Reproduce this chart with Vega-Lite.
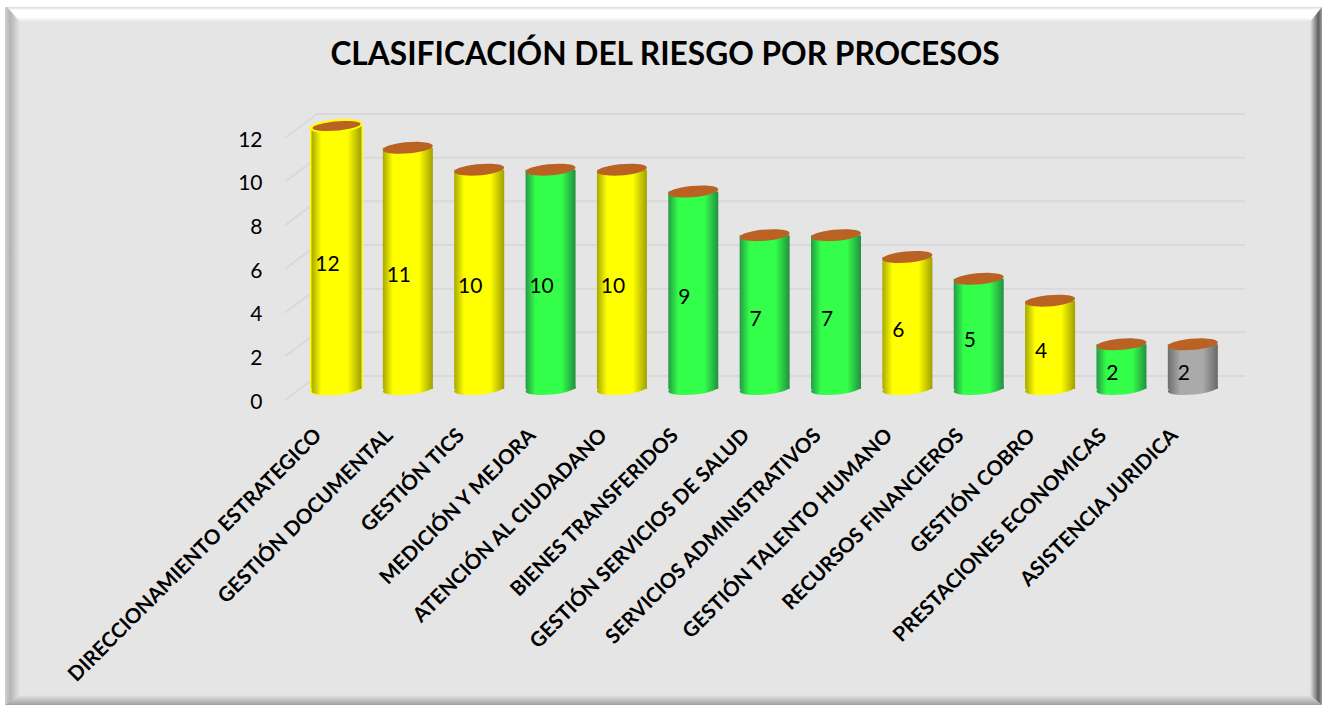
{"$schema":"https://vega.github.io/schema/vega-lite/v6.json","width":960,"height":262,"autosize":"none","padding":{"left":285,"top":138,"right":84,"bottom":305},"background":"#ffffff","config":{"view":{"stroke":null}},"title":{"text":"CLASIFICACIÓN DEL RIESGO POR PROCESOS","font":"Lato","fontSize":31.7,"fontWeight":"bold","color":"#000000","anchor":"middle","frame":"group","dx":-100,"offset":-65,"zindex":1},"datasets":{"procesos":[{"proceso":"DIRECCIONAMIENTO ESTRATEGICO","valor":12,"grupo":"amarillo"},{"proceso":"GESTIÓN DOCUMENTAL","valor":11,"grupo":"amarillo"},{"proceso":"GESTIÓN TICS","valor":10,"grupo":"amarillo"},{"proceso":"MEDICIÓN Y MEJORA","valor":10,"grupo":"verde"},{"proceso":"ATENCIÓN AL CIUDADANO","valor":10,"grupo":"amarillo"},{"proceso":"BIENES TRANSFERIDOS","valor":9,"grupo":"verde"},{"proceso":"GESTIÓN SERVICIOS DE SALUD","valor":7,"grupo":"verde"},{"proceso":"SERVICIOS ADMINISTRATIVOS","valor":7,"grupo":"verde"},{"proceso":"GESTIÓN TALENTO HUMANO","valor":6,"grupo":"amarillo"},{"proceso":"RECURSOS FINANCIEROS","valor":5,"grupo":"verde"},{"proceso":"GESTIÓN COBRO","valor":4,"grupo":"amarillo"},{"proceso":"PRESTACIONES ECONOMICAS","valor":2,"grupo":"verde"},{"proceso":"ASISTENCIA JURIDICA","valor":2,"grupo":"gris"}],"rejilla":[{"v":0,"gx":0,"gy":0},{"v":0,"gx":0.0334,"gy":1.1},{"v":0,"gx":1,"gy":1.1},{"v":2,"gx":0,"gy":2},{"v":2,"gx":0.0334,"gy":3.1},{"v":2,"gx":1,"gy":3.1},{"v":4,"gx":0,"gy":4},{"v":4,"gx":0.0334,"gy":5.1},{"v":4,"gx":1,"gy":5.1},{"v":6,"gx":0,"gy":6},{"v":6,"gx":0.0334,"gy":7.1},{"v":6,"gx":1,"gy":7.1},{"v":8,"gx":0,"gy":8},{"v":8,"gx":0.0334,"gy":9.1},{"v":8,"gx":1,"gy":9.1},{"v":10,"gx":0,"gy":10},{"v":10,"gx":0.0334,"gy":11.1},{"v":10,"gx":1,"gy":11.1},{"v":12,"gx":0,"gy":12},{"v":12,"gx":0.0334,"gy":13.1},{"v":12,"gx":1,"gy":13.1}]},"resolve":{"scale":{"x":"independent","y":"independent"},"axis":{"x":"independent","y":"independent"}},"layer":[{"layer":[{"data":{"values":[{"a":0.0038,"b":0.9947,"c":0.0099,"d":1}]},"mark":{"type":"rect","color":"#e5e5e5"},"encoding":{"x":{"field":"a","type":"quantitative","scale":{"domain":[0,1],"range":[-285,1044]},"axis":null},"x2":{"field":"b"},"y":{"field":"c","type":"quantitative","scale":{"domain":[0,1],"range":[-138,567]},"axis":null},"y2":{"field":"d"}}},{"data":{"values":[{"fx":0.0053,"fy":0.0099,"fy2":0.0099},{"fx":0.015,"fy":0.0099,"fy2":0.0312},{"fx":0.9857,"fy":0.0099,"fy2":0.0312},{"fx":0.9947,"fy":0.0099,"fy2":0.0099}]},"mark":{"type":"area","color":{"gradient":"linear","x1":0,"y1":0,"x2":0,"y2":1,"stops":[{"offset":0,"color":"#d8d8d8"},{"offset":0.2,"color":"#ffffff"},{"offset":0.7,"color":"#ffffff"},{"offset":1,"color":"#e5e5e5"}]}},"encoding":{"x":{"field":"fx","type":"quantitative","scale":{"domain":[0,1],"range":[-285,1044]},"axis":null},"y":{"field":"fy","type":"quantitative","scale":{"domain":[0,1],"range":[-138,567]},"axis":null},"y2":{"field":"fy2"}}},{"data":{"values":[{"fx":0.0038,"fy":0.9858,"fy2":1},{"fx":0.015,"fy":0.9858,"fy2":1},{"fx":0.9857,"fy":0.9858,"fy2":1},{"fx":0.9947,"fy":1,"fy2":1}]},"mark":{"type":"area","color":{"gradient":"linear","x1":0,"y1":0,"x2":0,"y2":1,"stops":[{"offset":0,"color":"#e5e5e5"},{"offset":1,"color":"#a0a0a0"}]}},"encoding":{"x":{"field":"fx","type":"quantitative","scale":{"domain":[0,1],"range":[-285,1044]},"axis":null},"y":{"field":"fy","type":"quantitative","scale":{"domain":[0,1],"range":[-138,567]},"axis":null},"y2":{"field":"fy2"}}},{"data":{"values":[{"fy":0.0099,"fx":0.0038,"fx2":0.0053},{"fy":0.0312,"fx":0.0038,"fx2":0.015},{"fy":0.9858,"fx":0.0038,"fx2":0.015},{"fy":1,"fx":0.0038,"fx2":0.0038}]},"mark":{"type":"area","orient":"horizontal","color":{"gradient":"linear","x1":0,"y1":0,"x2":1,"y2":0,"stops":[{"offset":0,"color":"#d0d0d0"},{"offset":0.35,"color":"#b4b4b4"},{"offset":1,"color":"#e5e5e5"}]}},"encoding":{"x":{"field":"fx","type":"quantitative","scale":{"domain":[0,1],"range":[-285,1044]},"axis":null},"x2":{"field":"fx2"},"y":{"field":"fy","type":"quantitative","scale":{"domain":[0,1],"range":[-138,567]},"axis":null}}},{"data":{"values":[{"fy":0.0099,"fx":0.9947,"fx2":0.9947},{"fy":0.0312,"fx":0.9857,"fx2":0.9947},{"fy":0.9858,"fx":0.9857,"fx2":0.9947},{"fy":1,"fx":0.9947,"fx2":0.9947}]},"mark":{"type":"area","orient":"horizontal","color":{"gradient":"linear","x1":0,"y1":0,"x2":1,"y2":0,"stops":[{"offset":0,"color":"#e5e5e5"},{"offset":0.7,"color":"#606060"},{"offset":1,"color":"#9a9a9a"}]}},"encoding":{"x":{"field":"fx","type":"quantitative","scale":{"domain":[0,1],"range":[-285,1044]},"axis":null},"x2":{"field":"fx2"},"y":{"field":"fy","type":"quantitative","scale":{"domain":[0,1],"range":[-138,567]},"axis":null}}}]},{"data":{"name":"rejilla"},"mark":{"type":"line","color":"#d9d9d9","strokeWidth":2,"clip":false},"encoding":{"x":{"field":"gx","type":"quantitative","scale":{"domain":[0,1],"range":[0,960]},"axis":null},"y":{"field":"gy","type":"quantitative","scale":{"domain":[0,12],"nice":false,"zero":false},"axis":null},"detail":{"field":"v"}}},{"data":{"name":"procesos"},"encoding":{"x":{"field":"proceso","type":"nominal","sort":null,"title":null,"scale":{"type":"band","domain":["DIRECCIONAMIENTO ESTRATEGICO","GESTIÓN DOCUMENTAL","GESTIÓN TICS","MEDICIÓN Y MEJORA","ATENCIÓN AL CIUDADANO","BIENES TRANSFERIDOS","GESTIÓN SERVICIOS DE SALUD","SERVICIOS ADMINISTRATIVOS","GESTIÓN TALENTO HUMANO","RECURSOS FINANCIEROS","GESTIÓN COBRO","PRESTACIONES ECONOMICAS","ASISTENCIA JURIDICA"],"range":[15.8,943.5],"paddingInner":0,"paddingOuter":0},"axis":{"labelAngle":-45,"labelAlign":"right","labelBaseline":"middle","labelFont":"Lato","labelFontSize":20.5,"labelFontWeight":"bold","labelColor":"#000000","labelLimit":600,"labelOverlap":false,"labelPadding":32,"labelOffset":-18,"ticks":false,"domain":false,"grid":false,"zindex":1}},"y":{"field":"valor","type":"quantitative","stack":null,"title":null,"scale":{"domain":[0,12],"nice":false},"axis":{"values":[0,2,4,6,8,10,12],"labelFont":"Lato","labelFontSize":21,"labelColor":"#000000","labelPadding":23,"labelOffset":2,"ticks":false,"domain":false,"grid":false,"zindex":1}},"y2":{"datum":0}},"layer":[{"transform":[{"filter":"datum.valor === 12"}],"mark":{"type":"bar","size":53,"color":"#ffff00","yOffset":-12,"y2Offset":-11}},{"transform":[{"filter":"datum.valor === 12"}],"mark":{"type":"point","filled":true,"opacity":1,"size":2800,"yOffset":-11,"shape":"M-0.996,0.087 A1,0.22,-5,1,0,0.996,-0.087 A1,0.22,-5,1,0,-0.996,0.087 Z","color":"#ffff00"},"encoding":{"y":{"datum":0,"type":"quantitative"},"y2":null}},{"transform":[{"filter":"datum.grupo === 'amarillo'"}],"mark":{"type":"bar","size":50,"yOffset":-12,"y2Offset":-11,"color":{"gradient":"linear","x1":0,"y1":0,"x2":1,"y2":0,"stops":[{"offset":0,"color":"#a8a800"},{"offset":0.2,"color":"#ffff00"},{"offset":0.72,"color":"#ffff00"},{"offset":1,"color":"#a0a000"}]}}},{"transform":[{"filter":"datum.grupo === 'verde'"}],"mark":{"type":"bar","size":50,"yOffset":-12,"y2Offset":-11,"color":{"gradient":"linear","x1":0,"y1":0,"x2":1,"y2":0,"stops":[{"offset":0,"color":"#259a45"},{"offset":0.2,"color":"#33ff4a"},{"offset":0.72,"color":"#33ff4a"},{"offset":1,"color":"#229040"}]}}},{"transform":[{"filter":"datum.grupo === 'gris'"}],"mark":{"type":"bar","size":50,"yOffset":-12,"y2Offset":-11,"color":{"gradient":"linear","x1":0,"y1":0,"x2":1,"y2":0,"stops":[{"offset":0,"color":"#6e6e6e"},{"offset":0.25,"color":"#aaaaaa"},{"offset":0.7,"color":"#aaaaaa"},{"offset":1,"color":"#686868"}]}}},{"transform":[{"filter":"datum.grupo === 'amarillo'"}],"mark":{"type":"point","filled":true,"opacity":1,"size":2500,"yOffset":-11,"shape":"M-0.996,0.087 A1,0.22,-5,1,0,0.996,-0.087 A1,0.22,-5,1,0,-0.996,0.087 Z","color":{"gradient":"linear","x1":0,"y1":0,"x2":1,"y2":0,"stops":[{"offset":0,"color":"#a8a800"},{"offset":0.2,"color":"#ffff00"},{"offset":0.72,"color":"#ffff00"},{"offset":1,"color":"#a0a000"}]}},"encoding":{"y":{"datum":0,"type":"quantitative"},"y2":null}},{"transform":[{"filter":"datum.grupo === 'verde'"}],"mark":{"type":"point","filled":true,"opacity":1,"size":2500,"yOffset":-11,"shape":"M-0.996,0.087 A1,0.22,-5,1,0,0.996,-0.087 A1,0.22,-5,1,0,-0.996,0.087 Z","color":{"gradient":"linear","x1":0,"y1":0,"x2":1,"y2":0,"stops":[{"offset":0,"color":"#259a45"},{"offset":0.2,"color":"#33ff4a"},{"offset":0.72,"color":"#33ff4a"},{"offset":1,"color":"#229040"}]}},"encoding":{"y":{"datum":0,"type":"quantitative"},"y2":null}},{"transform":[{"filter":"datum.grupo === 'gris'"}],"mark":{"type":"point","filled":true,"opacity":1,"size":2500,"yOffset":-11,"shape":"M-0.996,0.087 A1,0.22,-5,1,0,0.996,-0.087 A1,0.22,-5,1,0,-0.996,0.087 Z","color":{"gradient":"linear","x1":0,"y1":0,"x2":1,"y2":0,"stops":[{"offset":0,"color":"#6e6e6e"},{"offset":0.25,"color":"#aaaaaa"},{"offset":0.7,"color":"#aaaaaa"},{"offset":1,"color":"#686868"}]}},"encoding":{"y":{"datum":0,"type":"quantitative"},"y2":null}},{"mark":{"type":"point","filled":true,"opacity":1,"size":2500,"yOffset":-12,"shape":"M-0.996,0.087 A1,0.22,-5,1,1,0.996,-0.087 A1,0.22,-5,1,1,-0.996,0.087 Z","color":"#b96224"},"encoding":{"y2":null,"stroke":{"condition":{"test":"datum.valor === 12","value":"#ffff00"},"value":null},"strokeWidth":{"condition":{"test":"datum.valor === 12","value":2},"value":0}}}]},{"data":{"name":"procesos"},"mark":{"type":"text","font":"Lato","fontSize":21,"color":"#000000","align":"center","baseline":"middle","dx":-9,"yOffset":-4},"encoding":{"x":{"field":"proceso","type":"nominal","sort":null,"axis":null,"scale":{"type":"band","domain":["DIRECCIONAMIENTO ESTRATEGICO","GESTIÓN DOCUMENTAL","GESTIÓN TICS","MEDICIÓN Y MEJORA","ATENCIÓN AL CIUDADANO","BIENES TRANSFERIDOS","GESTIÓN SERVICIOS DE SALUD","SERVICIOS ADMINISTRATIVOS","GESTIÓN TALENTO HUMANO","RECURSOS FINANCIEROS","GESTIÓN COBRO","PRESTACIONES ECONOMICAS","ASISTENCIA JURIDICA"],"range":[15.8,943.5],"paddingInner":0,"paddingOuter":0}},"y":{"field":"valor","type":"quantitative","axis":null,"scale":{"domain":[0,24],"nice":false}},"text":{"field":"valor","type":"quantitative"}}}]}
